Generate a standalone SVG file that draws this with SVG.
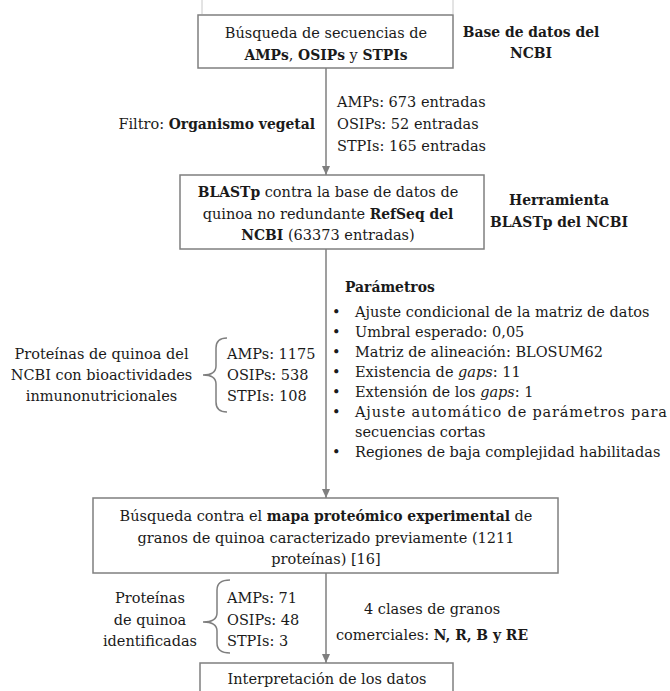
<svg xmlns="http://www.w3.org/2000/svg" width="670" height="691" viewBox="0 0 670 691">
<style>
text{font-family:"DejaVu Serif","Liberation Serif",serif;font-size:14.5px;fill:#1a1a1a}
.b{font-weight:bold;font-size:13.9px}
.i{font-style:italic}
.m{text-anchor:middle}
.e{text-anchor:end}
.box{fill:#fff;stroke:#7f7f7f;stroke-width:1.5}
.ln{stroke:#7f7f7f;stroke-width:1.5;fill:none}
.faint{stroke:#c8c8c8;stroke-width:1;fill:none}
</style>
<defs>
<marker id="arr" markerUnits="userSpaceOnUse" markerWidth="9" markerHeight="8" refX="9" refY="4" orient="auto">
<path d="M0,0 L9,4 L0,8 z" fill="#7f7f7f"/>
</marker>
</defs>
<rect width="670" height="691" fill="#fff"/>
<g id="top-remnant">
<line class="faint" x1="202" y1="0" x2="202" y2="14"/>
<line class="faint" x1="453" y1="0" x2="453" y2="14"/>
</g>
<g id="connectors">
<line class="ln" x1="326" y1="68" x2="326" y2="175" marker-end="url(#arr)"/>
<line class="ln" x1="326" y1="249" x2="326" y2="498" marker-end="url(#arr)"/>
<line class="ln" x1="326" y1="573" x2="326" y2="663" marker-end="url(#arr)"/>
<path class="ln" d="M227,338 Q216,338 216,348 L216,366 Q216,375 203,375 Q216,375 216,384 L216,402 Q216,412 227,412"/>
<path class="ln" d="M230,580 Q217,580 217,590 L217,613 Q217,622 203,622 Q217,622 217,631 L217,643 Q217,653 230,653"/>
</g>
<g id="node-busqueda">
<rect class="box" x="198" y="15" width="255" height="53"/>
<text class="m" x="326" y="38">Búsqueda de secuencias de</text>
<text class="m" x="326" y="60"><tspan class="b">AMPs</tspan>, <tspan class="b">OSIPs</tspan> y <tspan class="b">STPIs</tspan></text>
</g>
<g id="label-ncbi">
<text class="b m" x="531" y="37">Base de datos del</text>
<text class="b m" x="531" y="58">NCBI</text>
</g>
<g id="label-filtro">
<text class="e" x="315" y="129">Filtro: <tspan class="b">Organismo vegetal</tspan></text>
</g>
<g id="label-entradas">
<text x="337" y="107">AMPs: 673 entradas</text>
<text x="337" y="129">OSIPs: 52 entradas</text>
<text x="337" y="151">STPIs: 165 entradas</text>
</g>
<g id="node-blastp">
<rect class="box" x="180" y="175" width="304" height="74"/>
<text class="m" x="328" y="197"><tspan class="b">BLASTp</tspan> contra la base de datos de</text>
<text class="m" x="328" y="219">quinoa no redundante <tspan class="b">RefSeq del</tspan></text>
<text class="m" x="328" y="240"><tspan class="b">NCBI</tspan> (63373 entradas)</text>
</g>
<g id="label-herramienta">
<text class="b m" x="559" y="205">Herramienta</text>
<text class="b m" x="559" y="227">BLASTp del NCBI</text>
</g>
<g id="label-parametros">
<text class="b" x="345" y="292">Parámetros</text>
<text x="332" y="317">•</text>
<text x="355" y="317">Ajuste condicional de la matriz de datos</text>
<text x="332" y="337">•</text>
<text x="355" y="337">Umbral esperado: 0,05</text>
<text x="332" y="357">•</text>
<text x="355" y="357">Matriz de alineación: BLOSUM62</text>
<text x="332" y="377">•</text>
<text x="355" y="377">Existencia de <tspan class="i">gaps</tspan>: 11</text>
<text x="332" y="397">•</text>
<text x="355" y="397">Extensión de los <tspan class="i">gaps</tspan>: 1</text>
<text x="332" y="417">•</text>
<text x="355" y="417" textLength="312">Ajuste automático de parámetros para</text>
<text x="355" y="437">secuencias cortas</text>
<text x="332" y="457">•</text>
<text x="355" y="457">Regiones de baja complejidad habilitadas</text>
</g>
<g id="label-proteinas-ncbi">
<text class="m" x="101.5" y="359">Proteínas de quinoa del</text>
<text class="m" x="101.5" y="380">NCBI con bioactividades</text>
<text class="m" x="101.5" y="401">inmunonutricionales</text>
<text x="227" y="359">AMPs: 1175</text>
<text x="227" y="380">OSIPs: 538</text>
<text x="227" y="401">STPIs: 108</text>
</g>
<g id="node-mapa">
<rect class="box" x="93" y="498" width="465" height="75"/>
<text class="m" x="326" y="521">Búsqueda contra el <tspan class="b">mapa proteómico experimental</tspan> de</text>
<text class="m" x="326" y="543">granos de quinoa caracterizado previamente (1211</text>
<text class="m" x="326" y="564">proteínas) [16]</text>
</g>
<g id="label-identificadas">
<text class="m" x="150" y="603">Proteínas</text>
<text class="m" x="150" y="625">de quinoa</text>
<text class="m" x="150" y="646">identificadas</text>
<text x="227" y="603">AMPs: 71</text>
<text x="227" y="625">OSIPs: 48</text>
<text x="227" y="646">STPIs: 3</text>
</g>
<g id="label-clases">
<text class="m" x="432" y="614">4 clases de granos</text>
<text class="m" x="432" y="640">comerciales: <tspan class="b">N, R, B y RE</tspan></text>
</g>
<g id="node-interpretacion">
<rect class="box" x="200" y="663" width="253" height="40"/>
<text class="m" x="327" y="684">Interpretación de los datos</text>
</g>
</svg>
